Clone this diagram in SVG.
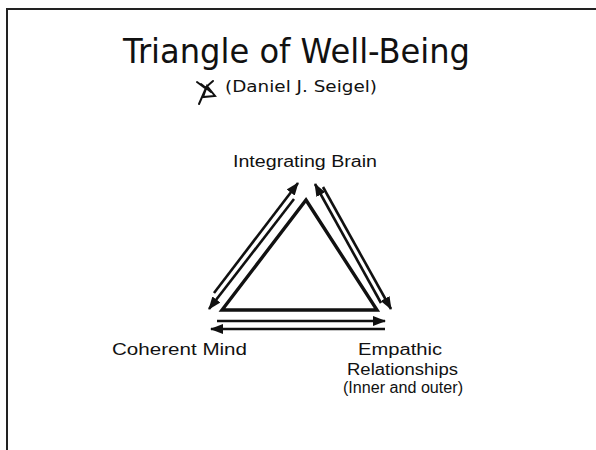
<svg xmlns="http://www.w3.org/2000/svg" width="596" height="450" viewBox="0 0 596 450">
  <style>
    .t { font-family: "Liberation Sans", Arial, sans-serif; fill: #111; }
    .h { font-family: "DejaVu Sans", Tahoma, Verdana, sans-serif; fill: #111; }
    .edge { stroke: #111; stroke-width: 2.6; fill: none; }
    .tri { stroke: #111; stroke-width: 3.4; fill: none; stroke-linejoin: miter; }
  </style>
  <defs>
    <marker id="ah" markerUnits="userSpaceOnUse" markerWidth="13" markerHeight="10" refX="12" refY="5" orient="auto">
      <path d="M0,0 L13,5 L0,10 z" fill="#111"/>
    </marker>
  </defs>
  <rect x="0" y="0" width="596" height="450" fill="#fff"/>
  <!-- frame -->
  <path d="M7,450 L7,9 L596,9" fill="none" stroke="#222" stroke-width="2"/>

  <g id="title">
    <text class="h" x="296.5" y="63" font-size="34" text-anchor="middle" textLength="347" lengthAdjust="spacingAndGlyphs">Triangle of Well-Being</text>
    <text class="h" x="301" y="92" font-size="15" text-anchor="middle" textLength="152" lengthAdjust="spacingAndGlyphs">(Daniel J. Seigel)</text>
    <path d="M197,82 L205,88 L213,81 M207,86 L215,96 L203,97 Z M206,88 L199,104 M201,84 L211,92" fill="none" stroke="#111" stroke-width="2" stroke-linecap="round"/>
  </g>

  <g id="triangle">
    <path class="tri" d="M306,200 L377,310 L222,310 Z"/>
  </g>

  <g id="integrating-brain">
    <text class="t" x="305" y="167" font-size="16" text-anchor="middle" textLength="144" lengthAdjust="spacingAndGlyphs">Integrating Brain</text>
  </g>
  <g id="coherent-mind">
    <text class="t" x="179.5" y="355" font-size="16" text-anchor="middle" textLength="135" lengthAdjust="spacingAndGlyphs">Coherent Mind</text>
  </g>
  <g id="empathic-relationships">
    <text class="t" x="400" y="355" font-size="16" text-anchor="middle" textLength="84" lengthAdjust="spacingAndGlyphs">Empathic</text>
    <text class="t" x="402.5" y="375" font-size="16" text-anchor="middle" textLength="111" lengthAdjust="spacingAndGlyphs">Relationships</text>
    <text class="t" x="403" y="393" font-size="16" text-anchor="middle" textLength="120" lengthAdjust="spacingAndGlyphs">(Inner and outer)</text>
  </g>

  <g id="connectors">
    <!-- left side -->
    <line class="edge" x1="214" y1="293" x2="298" y2="183" marker-end="url(#ah)"/>
    <line class="edge" x1="294" y1="199" x2="209" y2="309" marker-end="url(#ah)"/>
    <!-- right side -->
    <line class="edge" x1="381" y1="303" x2="315" y2="184" marker-end="url(#ah)"/>
    <line class="edge" x1="323" y1="187" x2="391" y2="309" marker-end="url(#ah)"/>
    <!-- bottom -->
    <line class="edge" x1="217" y1="321" x2="385" y2="321" marker-end="url(#ah)"/>
    <line class="edge" x1="385" y1="329" x2="211" y2="329" marker-end="url(#ah)"/>
  </g>
</svg>
